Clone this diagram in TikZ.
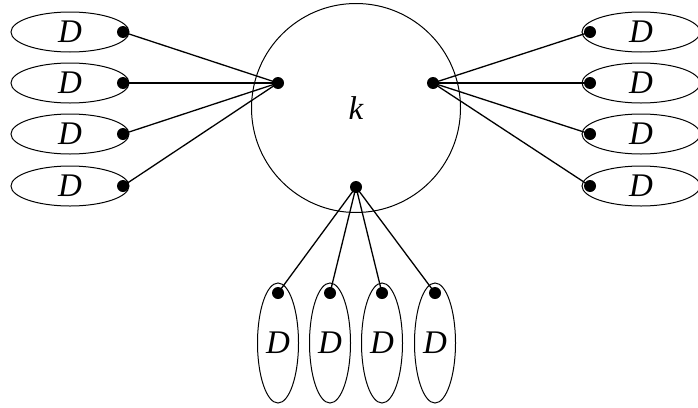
\documentclass[tikz,border=0pt]{standalone}
\usepackage{fontspec}
\setmainfont{Liberation Serif}
\usetikzlibrary{shapes.geometric}

\tikzset{
  dball/.style={ellipse, draw, line width=1pt, inner sep=0pt, minimum width=118pt, minimum height=40pt, font=\fontsize{33}{36}\selectfont\itshape},
  dtall/.style={dball, minimum width=41pt, minimum height=120pt},
  pin/.style={circle, fill, inner sep=0pt, minimum size=12pt},
  link/.style={line width=1.3pt}
}

\begin{document}
\begin{tikzpicture}[x=1pt, y=-1pt]
  \useasboundingbox (0, 0) rectangle (698, 407);

  \node [circle, draw, line width=1pt, minimum size=209pt, inner sep=0pt, font=\fontsize{33}{36}\selectfont\itshape] (kern) at (356, 108) {k};
  \node [pin] (pl) at (278, 83) {};
  \node [pin] (pr) at (433, 83) {};
  \node [pin] (pb) at (356, 187) {};

  % left
  \node [dball] (l1) at (70, 32) {D};
  \node [dball] (l2) at (70, 83) {D};
  \node [dball] (l3) at (70, 134) {D};
  \node [dball] (l4) at (70, 186) {D};
  \node [pin] (l1p) at (123, 32) {};
  \node [pin] (l2p) at (123, 83) {};
  \node [pin] (l3p) at (123, 134) {};
  \node [pin] (l4p) at (123, 186) {};

  % right
  \node [dball] (r1) at (641, 32) {D};
  \node [dball] (r2) at (641, 83) {D};
  \node [dball] (r3) at (641, 134) {D};
  \node [dball] (r4) at (641, 186) {D};
  \node [pin] (r1p) at (590, 32) {};
  \node [pin] (r2p) at (590, 83) {};
  \node [pin] (r3p) at (590, 134) {};
  \node [pin] (r4p) at (590, 186) {};

  % bottom
  \node [dtall] (b1) at (278, 343) {D};
  \node [dtall] (b2) at (330, 343) {D};
  \node [dtall] (b3) at (382, 343) {D};
  \node [dtall] (b4) at (435, 343) {D};
  \node [pin] (b1p) at (278, 293) {};
  \node [pin] (b2p) at (330, 293) {};
  \node [pin] (b3p) at (382, 293) {};
  \node [pin] (b4p) at (435, 293) {};

  \draw [link] (l1p.center) -- (pl.center);
  \draw [link] (l2p.center) -- (pl.center);
  \draw [link] (l3p.center) -- (pl.center);
  \draw [link] (l4p.center) -- (pl.center);

  \draw [link] (r1p.center) -- (pr.center);
  \draw [link] (r2p.center) -- (pr.center);
  \draw [link] (r3p.center) -- (pr.center);
  \draw [link] (r4p.center) -- (pr.center);

  \draw [link] (b1p.center) -- (pb.center);
  \draw [link] (b2p.center) -- (pb.center);
  \draw [link] (b3p.center) -- (pb.center);
  \draw [link] (b4p.center) -- (pb.center);
\end{tikzpicture}
\end{document}
